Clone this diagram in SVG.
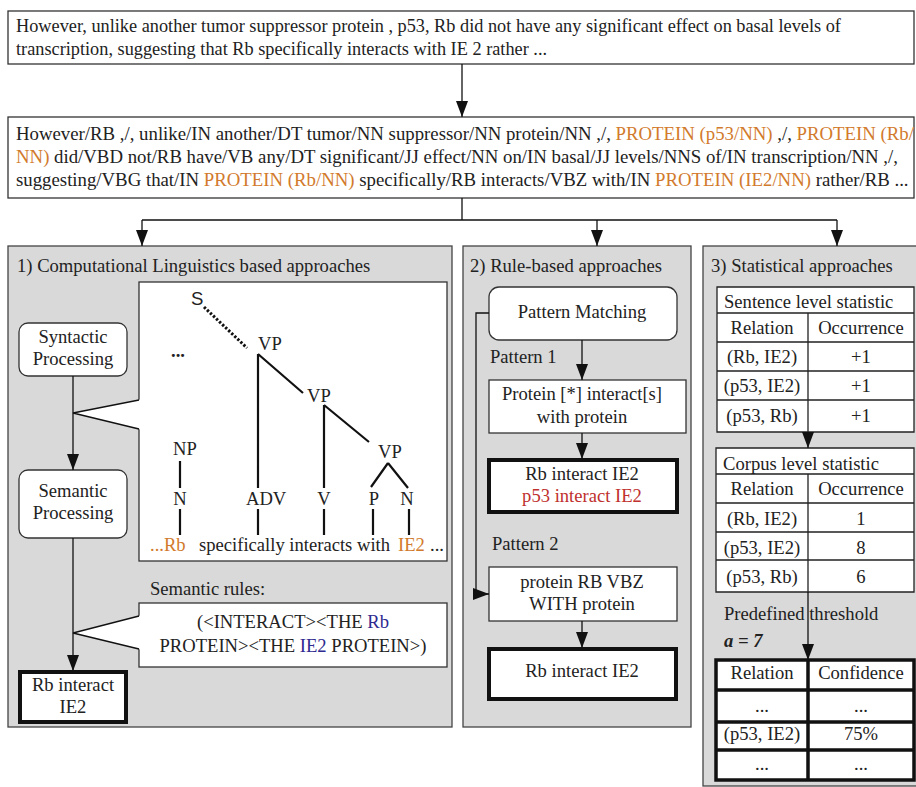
<svg xmlns="http://www.w3.org/2000/svg" width="916" height="787" viewBox="0 0 916 787">
<defs>
<marker id="ah" markerUnits="userSpaceOnUse" markerWidth="16" markerHeight="12" refX="16" refY="6" orient="auto">
<path d="M0,0 L16,6 L0,12 z" fill="#111"/>
</marker>
<style>
text{font-family:"Liberation Serif","Times New Roman",serif;fill:#222;font-size:18.6px}
.t17{font-size:18.3px}
.t18{font-size:18.8px}
.c{text-anchor:middle}
.or{fill:#d27a2c}
.bl{fill:#2e2a90}
.rd{fill:#c0302e}
.sans{font-family:"Liberation Sans",Arial,sans-serif}
.box{fill:#fff;stroke:#333;stroke-width:1.3}
.thick{fill:#fff;stroke:#111;stroke-width:4}
.panel{fill:#d9d9d9;stroke:#444;stroke-width:1.3}
.ln{fill:none;stroke:#111;stroke-width:1.3}
.tr{fill:none;stroke:#111;stroke-width:2.2}
.tb{fill:none;stroke:#222;stroke-width:1.3}
.tbk{fill:none;stroke:#111;stroke-width:3.5}
</style>
</defs>
<rect width="916" height="787" fill="#fff"/>

<g id="sentence">
<rect class="box" x="8" y="11" width="906" height="53"/>
<text class="t17" x="16" y="32">However, unlike another tumor suppressor protein , p53, Rb did not have any significant effect on basal levels of</text>
<text class="t17" x="16" y="55">transcription, suggesting that Rb specifically interacts with IE 2 rather ...</text>
</g>

<g id="tagged">
<rect class="box" x="8" y="117" width="906" height="81"/>
<text class="t18" x="16" y="140">However/RB ,/, unlike/IN another/DT tumor/NN suppressor/NN protein/NN ,/, <tspan class="or">PROTEIN (p53/NN)</tspan> ,/, <tspan class="or">PROTEIN (Rb/</tspan></text>
<text class="t18" x="16" y="163"><tspan class="or">NN)</tspan> did/VBD not/RB have/VB any/DT significant/JJ effect/NN on/IN basal/JJ levels/NNS of/IN transcription/NN ,/,</text>
<text class="t18" x="16" y="186">suggesting/VBG that/IN <tspan class="or">PROTEIN (Rb/NN)</tspan> specifically/RB interacts/VBZ with/IN <tspan class="or">PROTEIN (IE2/NN)</tspan> rather/RB ...</text>
</g>

<g id="panel1">
<rect class="panel" x="8" y="246" width="444" height="481"/>
<text x="17" y="272">1) Computational Linguistics based approaches</text>
</g>
<g id="panel2">
<rect class="panel" x="463" y="246" width="228" height="481"/>
<text x="470" y="272">2) Rule-based approaches</text>
</g>
<g id="panel3">
<rect class="panel" x="703" y="246" width="230" height="540"/>
<text x="711" y="272">3) Statistical approaches</text>
</g>

<g id="parse-tree">
<rect class="box" x="139" y="282" width="308" height="279"/>
<text class="sans" x="191" y="305">S</text>
<line x1="204" y1="307" x2="247" y2="348" stroke="#111" stroke-width="3" stroke-dasharray="2.4 1.8"/>
<text x="171" y="357" font-weight="bold">...</text>
<text x="258" y="350">VP</text>
<text x="307" y="402">VP</text>
<text x="378" y="458">VP</text>
<text x="173" y="455">NP</text>
<text class="c" x="180" y="505">N</text>
<text x="246" y="505">ADV</text>
<text class="c" x="324" y="505">V</text>
<text class="c" x="374" y="505">P</text>
<text class="c" x="407" y="505">N</text>
<path class="tr" d="M258,354 V488 M258,354 L303,393 M324,405 V488 M324,405 L369,442 M388,463 L371,487 M388,463 L408,488 M180,461 V488 M180,509 V535 M258,509 V535 M324,509 V535 M373,509 V535 M409,509 V535"/>
<text x="150" y="551"><tspan class="or">...Rb</tspan></text>
<text x="199" y="551">specifically interacts with</text>
<text x="398" y="551" class="or">IE2</text>
<text x="430" y="551">...</text>
</g>

<g id="syntactic">
<rect class="box" x="19" y="323" width="108" height="53" rx="9"/>
<text class="c" x="73" y="343">Syntactic</text>
<text class="c" x="73" y="365">Processing</text>
</g>
<g id="semantic">
<rect class="box" x="19" y="470" width="108" height="68" rx="9"/>
<text class="c" x="73" y="497">Semantic</text>
<text class="c" x="73" y="519">Processing</text>
</g>
<g id="result1">
<rect class="thick" x="20" y="672" width="106" height="50"/>
<text class="c" x="73" y="691">Rb interact</text>
<text class="c" x="73" y="713">IE2</text>
</g>
<g id="semantic-rules">
<text x="150" y="595">Semantic rules:</text>
<rect class="box" x="139" y="603" width="308" height="64"/>
<text class="c" x="293" y="628">(&lt;INTERACT&gt;&lt;THE <tspan class="bl">Rb</tspan></text>
<text class="c" x="293" y="652">PROTEIN&gt;&lt;THE <tspan class="bl">IE2</tspan> PROTEIN&gt;)</text>
</g>

<g id="pattern-matching">
<rect class="box" x="489" y="287" width="188" height="53" rx="10"/>
<text class="c" x="582" y="318">Pattern Matching</text>
</g>
<g id="pattern1">
<text x="490" y="363">Pattern 1</text>
<rect class="box" x="489" y="380" width="197" height="53"/>
<text class="c" x="582" y="400">Protein [*] interact[s]</text>
<text class="c" x="582" y="423">with protein</text>
</g>
<g id="result2">
<rect class="thick" x="489" y="460" width="188" height="52"/>
<text class="c" x="582" y="480">Rb interact IE2</text>
<text class="c rd" x="582" y="502">p53 interact IE2</text>
</g>
<g id="pattern2">
<text x="492" y="550">Pattern 2</text>
<rect class="box" x="489" y="567" width="188" height="54"/>
<text class="c" x="582" y="588">protein RB VBZ</text>
<text class="c" x="582" y="610">WITH protein</text>
</g>
<g id="result3">
<rect class="thick" x="489" y="649" width="187" height="50"/>
<text class="c" x="582" y="677">Rb interact IE2</text>
</g>

<g id="sentence-table">
<rect x="717" y="287" width="197" height="145" fill="#fff"/>
<path class="tb" d="M717,287 H914 V432 H717 Z M717,313 H914 M717,342 H914 M717,371 H914 M717,400 H914 M808,313 V432"/>
<text x="724" y="308">Sentence level statistic</text>
<text class="c" x="762" y="334">Relation</text><text class="c" x="861" y="334">Occurrence</text>
<text class="c" x="762" y="363">(Rb, IE2)</text><text class="c" x="861" y="363">+1</text>
<text class="c" x="762" y="392">(p53, IE2)</text><text class="c" x="861" y="392">+1</text>
<text class="c" x="762" y="422">(p53, Rb)</text><text class="c" x="861" y="422">+1</text>
</g>
<g id="corpus-table">
<rect x="716" y="448" width="198" height="144" fill="#fff"/>
<path class="tb" d="M716,448 H914 V592 H716 Z M716,474 H914 M716,503 H914 M716,532 H914 M716,560 H914 M808,474 V592"/>
<text x="723" y="470">Corpus level statistic</text>
<text class="c" x="762" y="495">Relation</text><text class="c" x="861" y="495">Occurrence</text>
<text class="c" x="762" y="525">(Rb, IE2)</text><text class="c" x="861" y="525">1</text>
<text class="c" x="762" y="554">(p53, IE2)</text><text class="c" x="861" y="554">8</text>
<text class="c" x="762" y="583">(p53, Rb)</text><text class="c" x="861" y="583">6</text>
</g>

<g id="connectors">
<line class="ln" x1="462" y1="64" x2="462" y2="117" marker-end="url(#ah)"/>
<path class="ln" d="M462,198 V220 M142,220 H837"/>
<line class="ln" x1="142" y1="220" x2="142" y2="246" marker-end="url(#ah)"/>
<line class="ln" x1="597" y1="220" x2="597" y2="246" marker-end="url(#ah)"/>
<line class="ln" x1="837" y1="220" x2="837" y2="246" marker-end="url(#ah)"/>
<line class="ln" x1="73" y1="376" x2="73" y2="470" marker-end="url(#ah)"/>
<line class="ln" x1="73" y1="538" x2="73" y2="671" marker-end="url(#ah)"/>
<polygon points="73,413 140.5,399.5 140.5,429.5" fill="#fff"/>
<path class="ln" d="M139,400 L73,413 L139,429"/>
<polygon points="73,633 140.5,615.5 140.5,649.5" fill="#fff"/>
<path class="ln" d="M139,616 L73,633 L139,649"/>
<line class="ln" x1="582" y1="340" x2="582" y2="380" marker-end="url(#ah)"/>
<line class="ln" x1="582" y1="433" x2="582" y2="459" marker-end="url(#ah)"/>
<line class="ln" x1="582" y1="621" x2="582" y2="648" marker-end="url(#ah)"/>
<path class="ln" d="M489,313 H476 V594 H489" marker-end="url(#ah)"/>
<line class="ln" x1="808" y1="432" x2="808" y2="448" marker-end="url(#ah)"/>
<line class="ln" x1="808" y1="592" x2="808" y2="660" marker-end="url(#ah)"/>
</g>

<g id="threshold">
<text x="724" y="620">Predefined threshold</text>
<text x="724" y="647" font-weight="bold" font-style="italic">a = 7</text>
</g>
<g id="confidence-table">
<rect x="716" y="660" width="198" height="120" fill="#fff"/>
<path class="tbk" d="M716,660 H914 V780 H716 Z M716,690 H914 M716,722 H914 M716,750 H914 M808,660 V780"/>
<text class="c" x="762" y="679">Relation</text><text class="c" x="861" y="679">Confidence</text>
<text class="c" x="762" y="712">...</text><text class="c" x="861" y="712">...</text>
<text class="c" x="762" y="740">(p53, IE2)</text><text class="c" x="861" y="740">75%</text>
<text class="c" x="762" y="770">...</text><text class="c" x="861" y="770">...</text>
</g>
</svg>
